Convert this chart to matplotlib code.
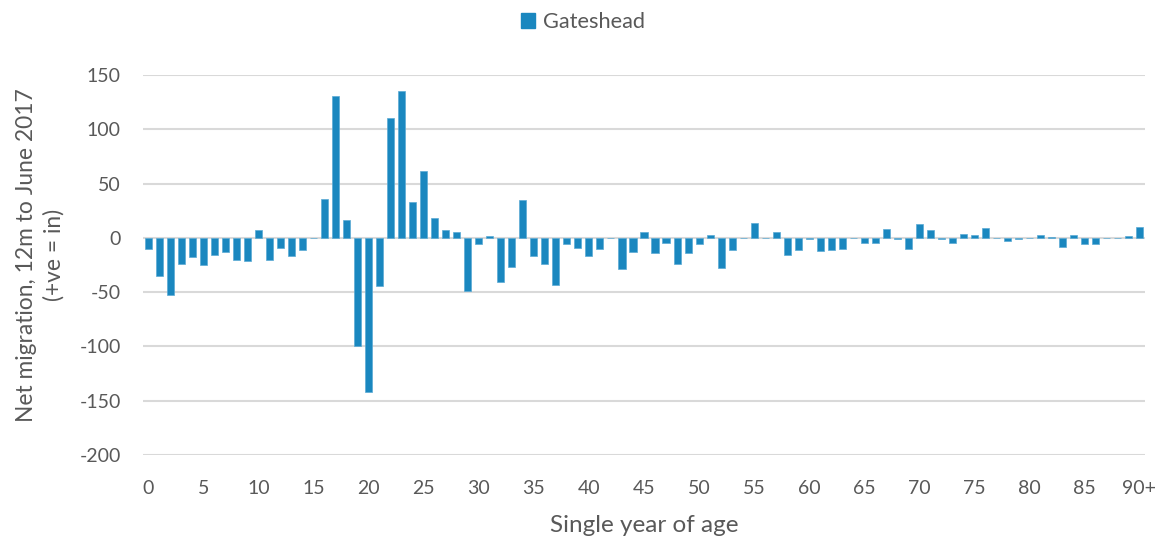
import matplotlib
matplotlib.use("Agg")
import matplotlib.pyplot as plt
from matplotlib.patches import Patch

plt.rcParams['font.family'] = ['Lato', 'DejaVu Sans']

# net migration by single year of age, 12m to June 2017
ages = [str(a) for a in range(90)] + ["90+"]
gateshead = [
    -10, -35, -53, -24, -18, -25, -16, -13, -20, -21,
    7, -20, -9, -17, -11, 0, 36, 131, 16, -100,
    -142, -44, 110, 135, 33, 62, 18, 7, 5, -49,
    -6, 2, -41, -27, 35, -17, -24, -43, -6, -9,
    -17, -10, 0, -29, -13, 5, -14, -5, -24, -14,
    -6, 3, -28, -11, 0, 14, 0, 5, -16, -11,
    -1, -12, -11, -10, 0, -5, -5, 8, -1, -10,
    13, 7, -1, -5, 4, 3, 9, 0, -3, -1,
    0, 3, 1, -8, 3, -6, -6, 0, 0, 2,
    10,
]
tick_labels = [str(a) for a in range(0, 90, 5)] + ["90+"]
y_ticks = [150, 100, 50, 0, -50, -100, -150, -200]

bar_color = "#1a87bf"
text_color = "#595959"
grid_color = "#d9d9d9"

fig = plt.figure(figsize=(11.62, 5.40), dpi=100)
ax = fig.add_axes([143 / 1162, 1 - 455 / 540, 1002 / 1162, 380 / 540])

x = list(range(len(ages)))
ax.bar(x, gateshead, width=0.64, color=bar_color, edgecolor="#5aaad4", linewidth=0.5, zorder=3)

ax.set_xlim(-0.5, len(ages) - 0.5)
ax.set_ylim(-200, 150)
ax.set_yticks(y_ticks)
ax.set_yticklabels([str(v) for v in y_ticks])
ax.set_xticks(list(range(0, 91, 5)))
ax.set_xticklabels(tick_labels)

ax.grid(axis="y", color=grid_color, linewidth=1.5, zorder=0)
for s in ax.spines.values():
    s.set_visible(False)
ax.tick_params(axis="both", length=0, labelsize=14, labelcolor=text_color)
ax.tick_params(axis="y", pad=16)
ax.tick_params(axis="x", pad=18)

fig.text(0.5 * (143 + 1145) / 1162, 1 - 525 / 540, "Single year of age",
         ha="center", va="center", fontsize=17.5, color=text_color)
fig.text(40 / 1162, 1 - 255 / 540, "Net migration, 12m to June 2017\n(+ve = in)",
         rotation=90, ha="center", va="center", multialignment="center",
         fontsize=16.4, color=text_color, linespacing=1.35)

handle = Patch(facecolor=bar_color, edgecolor=bar_color)
fig.legend([handle], ["Gateshead"], loc="center", bbox_to_anchor=(583 / 1162, 1 - 22 / 540),
           frameon=False, fontsize=15.7, labelcolor=text_color,
           handlelength=0.65, handleheight=0.65, handletextpad=0.35)

fig.savefig("out.png", dpi=100)
